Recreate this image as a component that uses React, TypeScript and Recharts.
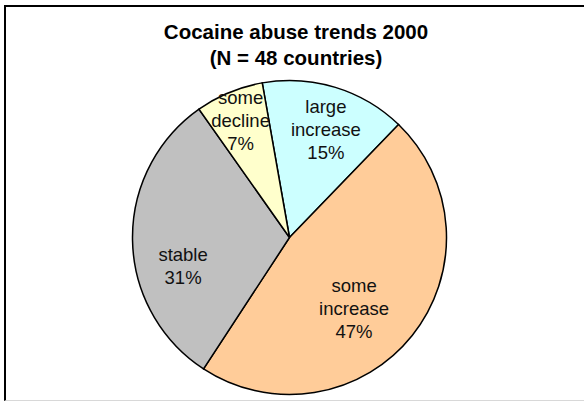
import { PieChart, Pie, Cell } from 'recharts';

const categories = ['large increase', 'some increase', 'stable', 'some decline'];
const shares = [15, 47, 31, 7];
const colors = ['#CCFFFF', '#FFCC99', '#C0C0C0', '#FFFFCC'];

const data = categories.map((name, i) => ({ name, value: shares[i] }));

// where each label sits: fraction of radius + clockwise nudge in degrees
const labelPlace: Record<string, { r: number; shift: number }> = {
  'large increase': { r: 0.73, shift: 1.5 },
  'some increase': { r: 0.61, shift: 9 },
  stable: { r: 0.7, shift: -13.5 },
  'some decline': { r: 0.81, shift: 0 },
};

const RAD = Math.PI / 180;
const FONT = '"Liberation Sans", Arial, sans-serif';

const renderLabel = (props: any) => {
  const { cx, cy, midAngle, outerRadius, name, value } = props;
  const p = labelPlace[name] || { r: 0.65, shift: 0 };
  const a = midAngle - p.shift;
  const x = cx + outerRadius * p.r * Math.cos(-a * RAD);
  const y = cy + outerRadius * p.r * Math.sin(-a * RAD);
  const lines = [...String(name).split(' '), `${value}%`];
  const lh = 23;
  const y0 = y - ((lines.length - 1) * lh) / 2;
  return (
    <text
      x={x}
      y={y0}
      textAnchor="middle"
      dominantBaseline="central"
      fontFamily={FONT}
      fontSize={18.5}
      fill="#111"
    >
      {lines.map((l, i) => (
        <tspan key={i} x={x} dy={i === 0 ? 0 : lh}>
          {l}
        </tspan>
      ))}
    </text>
  );
};

export default function App() {
  return (
    <div style={{ position: 'absolute', left: 0, top: 0, width: 584, height: 401, background: '#fff' }}>
      <div
        style={{
          position: 'absolute',
          left: 4,
          top: 5,
          width: 580,
          height: 393,
          borderTop: '2px solid #000',
          borderLeft: '2px solid #000',
          borderBottom: '1px solid #d8d8d8',
        }}
      />
      <div
        style={{
          position: 'absolute',
          left: 6,
          top: 19,
          width: 580,
          textAlign: 'center',
          fontFamily: FONT,
          fontWeight: 'bold',
          fontSize: 20.5,
          lineHeight: '26px',
          color: '#000',
        }}
      >
        Cocaine abuse trends 2000
        <br />
        (N = 48 countries)
      </div>
      <div style={{ position: 'absolute', left: 0, top: 0 }}>
        <PieChart width={584} height={401} margin={{ top: 0, right: 0, bottom: 0, left: 0 }}>
          <Pie
            data={data}
            dataKey="value"
            nameKey="name"
            cx={289.5}
            cy={237.5}
            outerRadius={157}
            startAngle={100}
            endAngle={-260}
            stroke="#000"
            strokeWidth={1.5}
            label={renderLabel}
            labelLine={false}
            isAnimationActive={false}
          >
            {data.map((d, i) => (
              <Cell key={d.name} fill={colors[i]} />
            ))}
          </Pie>
        </PieChart>
      </div>
    </div>
  );
}
